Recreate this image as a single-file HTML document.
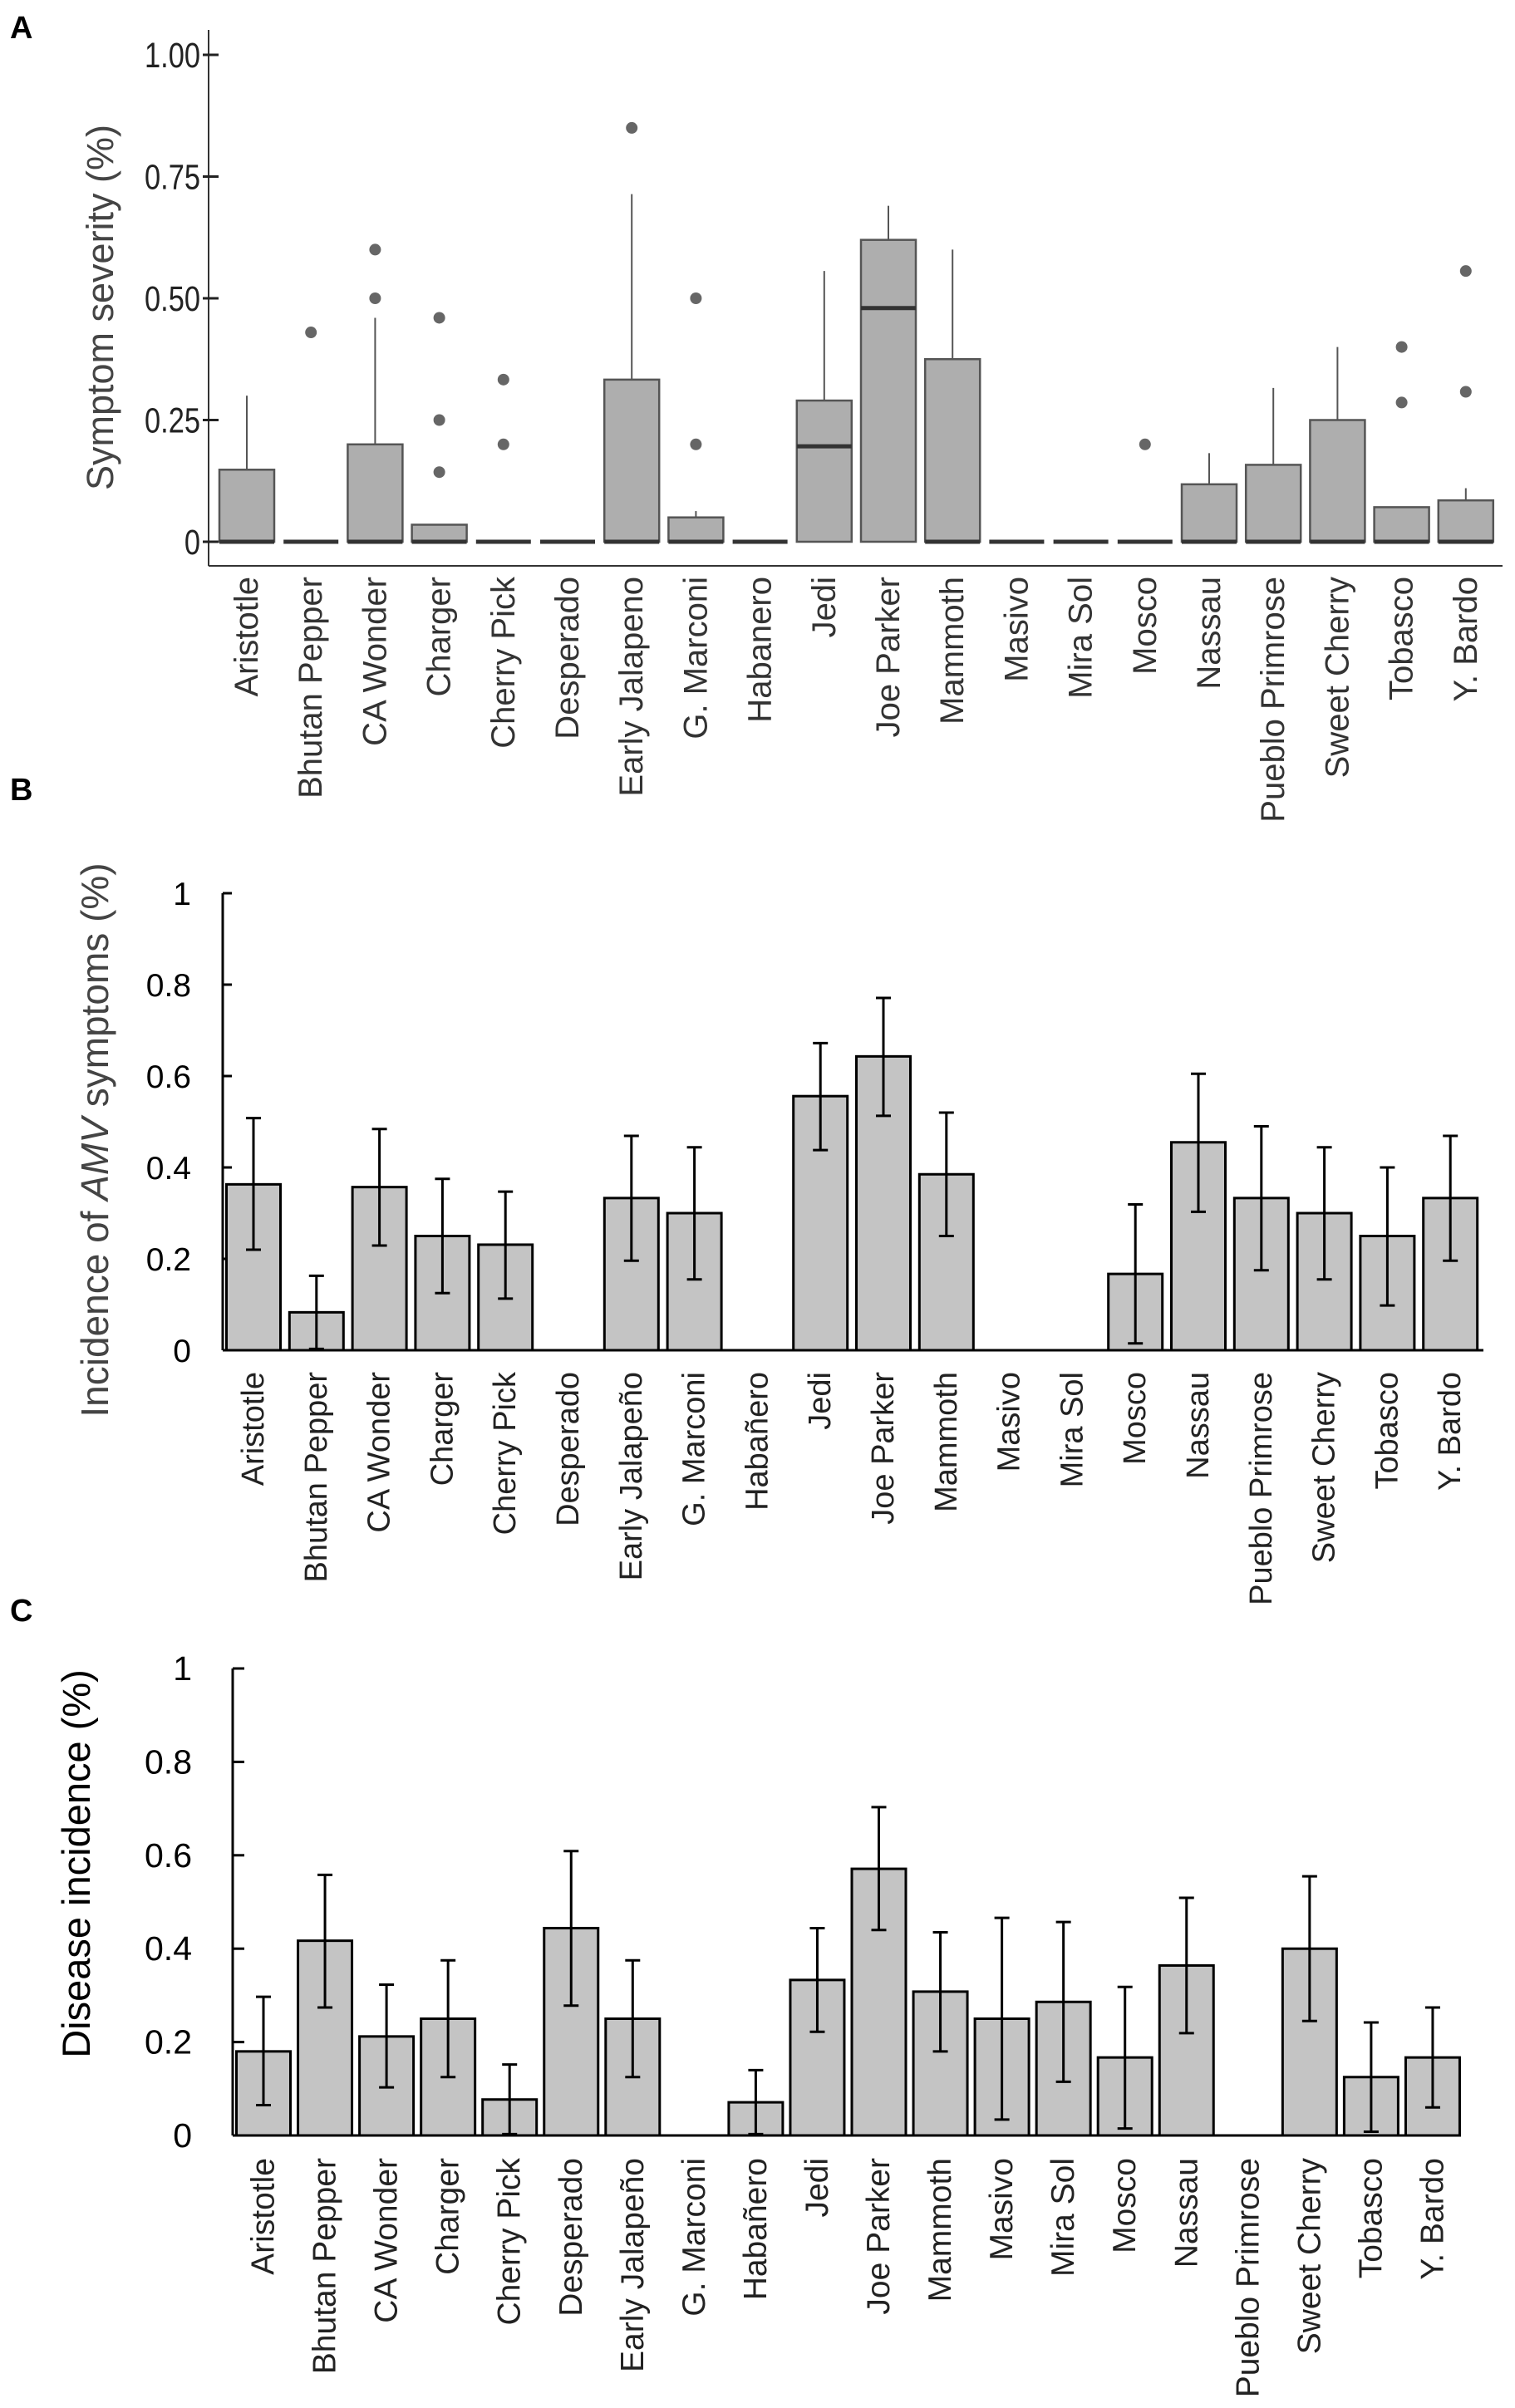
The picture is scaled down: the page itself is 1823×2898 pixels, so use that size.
<!DOCTYPE html>
<html><head><meta charset="utf-8"><style>
html,body{margin:0;padding:0;background:#fff}
svg{display:block}
text{font-family:"Liberation Sans",sans-serif}
</style></head><body>
<svg id="fig" width="1823" height="2898" viewBox="0 0 1823 2898" xmlns="http://www.w3.org/2000/svg">
<text x="12" y="46" font-size="38" font-weight="bold">A</text>
<text x="12" y="963" font-size="38" font-weight="bold">B</text>
<text x="12" y="1951" font-size="38" font-weight="bold">C</text>
<g id="pa"></g>
<g id="pb"></g>
<g id="pc"></g>
</svg>
<script>
const catsA = ["Aristotle","Bhutan Pepper","CA Wonder","Charger","Cherry Pick","Desperado","Early Jalapeno","G. Marconi","Habanero","Jedi","Joe Parker","Mammoth","Masivo","Mira Sol","Mosco","Nassau","Pueblo Primrose","Sweet Cherry","Tobasco","Y. Bardo"];
const catsBC = ["Aristotle","Bhutan Pepper","CA Wonder","Charger","Cherry Pick","Desperado","Early Jalapeño","G. Marconi","Habañero","Jedi","Joe Parker","Mammoth","Masivo","Mira Sol","Mosco","Nassau","Pueblo Primrose","Sweet Cherry","Tobasco","Y. Bardo"];
const boxQ1 = [0,0,0,0,0,0,0,0,0,0,0,0,0,0,0,0,0,0,0,0];
const boxQ3 = [0.148,0,0.20,0.035,0,0,0.333,0.05,0,0.29,0.62,0.375,0,0,0,0.118,0.158,0.25,0.071,0.085];
const boxMed = [0,0,0,0,0,0,0,0,0,0.196,0.48,0,0,0,0,0,0,0,0,0];
const whiskTop = [0.30,0,0.46,0.035,0,0,0.714,0.063,0,0.556,0.69,0.60,0,0,0,0.182,0.316,0.40,0.071,0.11];
const outliers = [[],[0.43],[0.5,0.6],[0.46,0.25,0.143],[0.333,0.20],[],[0.85],[0.5,0.2],[],[],[],[],[],[],[0.2],[],[],[],[0.4,0.286],[0.556,0.308]];
const ticksA = ["0","0.25","0.50","0.75","1.00"];
const ticksAV = [0,0.25,0.5,0.75,1];
const valsB = [0.363,0.083,0.357,0.25,0.231,0,0.333,0.30,0,0.556,0.643,0.385,0,0,0.167,0.455,0.333,0.30,0.25,0.333];
const hiB = [0.508,0.163,0.484,0.375,0.347,null,0.469,0.444,null,0.672,0.771,0.52,null,null,0.319,0.605,0.49,0.444,0.40,0.469];
const loB = [0.22,0.003,0.229,0.125,0.113,null,0.196,0.155,null,0.438,0.513,0.25,null,null,0.015,0.303,0.175,0.155,0.098,0.196];
const valsC = [0.18,0.417,0.212,0.25,0.077,0.444,0.25,0,0.071,0.333,0.571,0.308,0.25,0.286,0.167,0.364,0,0.40,0.125,0.167];
const hiC = [0.297,0.558,0.323,0.375,0.152,0.609,0.375,null,0.14,0.444,0.703,0.435,0.466,0.457,0.318,0.509,null,0.555,0.242,0.274];
const loC = [0.065,0.274,0.103,0.125,0.003,0.278,0.125,null,0.003,0.222,0.44,0.18,0.034,0.115,0.015,0.219,null,0.245,0.008,0.06];
const ticksBC = ["0","0.2","0.4","0.6","0.8","1"];
const ticksBCV = [0,0.2,0.4,0.6,0.8,1];

const NS="http://www.w3.org/2000/svg";
function mk(parent,tag,attrs,txt){const e=document.createElementNS(NS,tag);for(const k in attrs)e.setAttribute(k,attrs[k]);if(txt!==undefined)e.textContent=txt;parent.appendChild(e);return e;}

// ---- Panel A ----
(function(){
  const g=document.getElementById('pa');
  const ax=251, y0=652, y1=66, cx0=297, step=77.2, bw=66;
  const y=v=>y0-(y0-y1)*v, x=i=>cx0+step*i;
  let l=mk(g,'line',{x1:ax,y1:36,x2:ax,y2:681,stroke:'#333','stroke-width':2});
  
  l=mk(g,'line',{x1:ax,y1:681,x2:1808,y2:681,stroke:'#333','stroke-width':2});
  
  ticksAV.forEach((v,i)=>{
    const t=mk(g,'line',{x1:ax-7,y1:y(v),x2:ax+12,y2:y(v),stroke:'#222','stroke-width':3});
    
    const tx=mk(g,'text',{x:241/0.8,y:y(v)+15,'font-size':43,'text-anchor':'end',fill:'#222',transform:'scale(0.8,1)'},ticksA[i]);
    
  });
  const tt=mk(g,'text',{x:0,y:0,'font-size':45,'text-anchor':'middle',fill:'#444',transform:'translate(136,370) rotate(-90)'},'Symptom severity (%)');
  
  catsA.forEach((c,i)=>{
    const cx=x(i);
    if(whiskTop[i]>boxQ3[i]){
      const w=mk(g,'line',{x1:cx,y1:y(boxQ3[i]),x2:cx,y2:y(whiskTop[i]),stroke:'#555','stroke-width':2});
      
    }
    const h=y(boxQ1[i])-y(boxQ3[i]);
    if(h>0.5){
      const r=mk(g,'rect',{x:cx-bw/2,y:y(boxQ3[i]),width:bw,height:h,fill:'#aeaeae',stroke:'#555','stroke-width':2.5});
      
    }
    const m=mk(g,'line',{x1:cx-bw/2,y1:y(boxMed[i]),x2:cx+bw/2,y2:y(boxMed[i]),stroke:'#333','stroke-width':5});
    
    outliers[i].forEach(o=>{
      const p=mk(g,'circle',{cx:cx,cy:y(o),r:7,fill:'#666'});
      
    });
    const lb=mk(g,'text',{x:0,y:0,'font-size':40,'text-anchor':'end','dominant-baseline':'central',fill:'#333',transform:`translate(${cx},694) rotate(-90)`},c);
    
  });
})();

// ---- Bar panels ----
function barPanel(id,cats,vals,hi,lo,o){
  const g=document.getElementById(id);
  const y=v=>o.y0-(o.y0-o.y1)*v, x=i=>o.cx0+o.step*i;
  let l=mk(g,'line',{x1:o.ax,y1:o.y1,x2:o.ax,y2:o.y0,stroke:'#000','stroke-width':3});
  
  l=mk(g,'line',{x1:o.ax,y1:o.y0,x2:o.xend,y2:o.y0,stroke:'#000','stroke-width':3});
  
  ticksBCV.forEach((v,i)=>{
    const t=mk(g,'line',{x1:o.ax,y1:y(v),x2:o.ax+o.tick,y2:y(v),stroke:'#000','stroke-width':3});
    
    const tx=mk(g,'text',{x:o.tlx,y:y(v)+14,'font-size':o.tfs,'text-anchor':'end',fill:'#000'},ticksBC[i]);
    
  });
  const tt=mk(g,'text',{x:0,y:0,'font-size':o.titfs,'text-anchor':'middle',fill:o.titcol,transform:`translate(${o.titx},${o.tity}) rotate(-90)`});
  
  o.title.forEach(p=>{const s=mk(tt,'tspan',p.it?{'font-style':'italic'}:{},p.t);});
  cats.forEach((c,i)=>{
    const cx=x(i);
    if(vals[i]>0){
      const r=mk(g,'rect',{x:cx-o.bw/2,y:y(vals[i]),width:o.bw,height:y(0)-y(vals[i]),fill:'#c4c4c4',stroke:'#000','stroke-width':3});
      
    }
    if(hi[i]!==null){
      const e=mk(g,'path',{d:`M${cx-9},${y(hi[i])}H${cx+9}M${cx},${y(hi[i])}V${y(lo[i])}M${cx-9},${y(lo[i])}H${cx+9}`,stroke:'#000','stroke-width':3,fill:'none'});
      
    }
    const lb=mk(g,'text',{x:0,y:0,'font-size':o.lfs,'text-anchor':'end','dominant-baseline':'central',fill:'#222',transform:`translate(${cx},${o.lend}) rotate(-90)`},c);
    
  });
}
barPanel('pb',catsBC,valsB,hiB,loB,{ax:268,y0:1625,y1:1075,cx0:305,step:75.8,bw:65,xend:1785,tick:11,tlx:230,tfs:39,titfs:46,titcol:'#444',titx:130,tity:1372,lfs:38,lend:1651,
  title:[{t:'Incidence of '},{t:'AMV',it:true},{t:' symptoms (%)'}]});
barPanel('pc',catsBC,valsC,hiC,loC,{ax:280,y0:2570,y1:2008,cx0:317,step:74.05,bw:65,xend:1758,tick:14,tlx:231,tfs:41,titfs:47,titcol:'#000',titx:108,tity:2243,lfs:39,lend:2597,
  title:[{t:'Disease incidence (%)'}]});
</script>
</body></html>
